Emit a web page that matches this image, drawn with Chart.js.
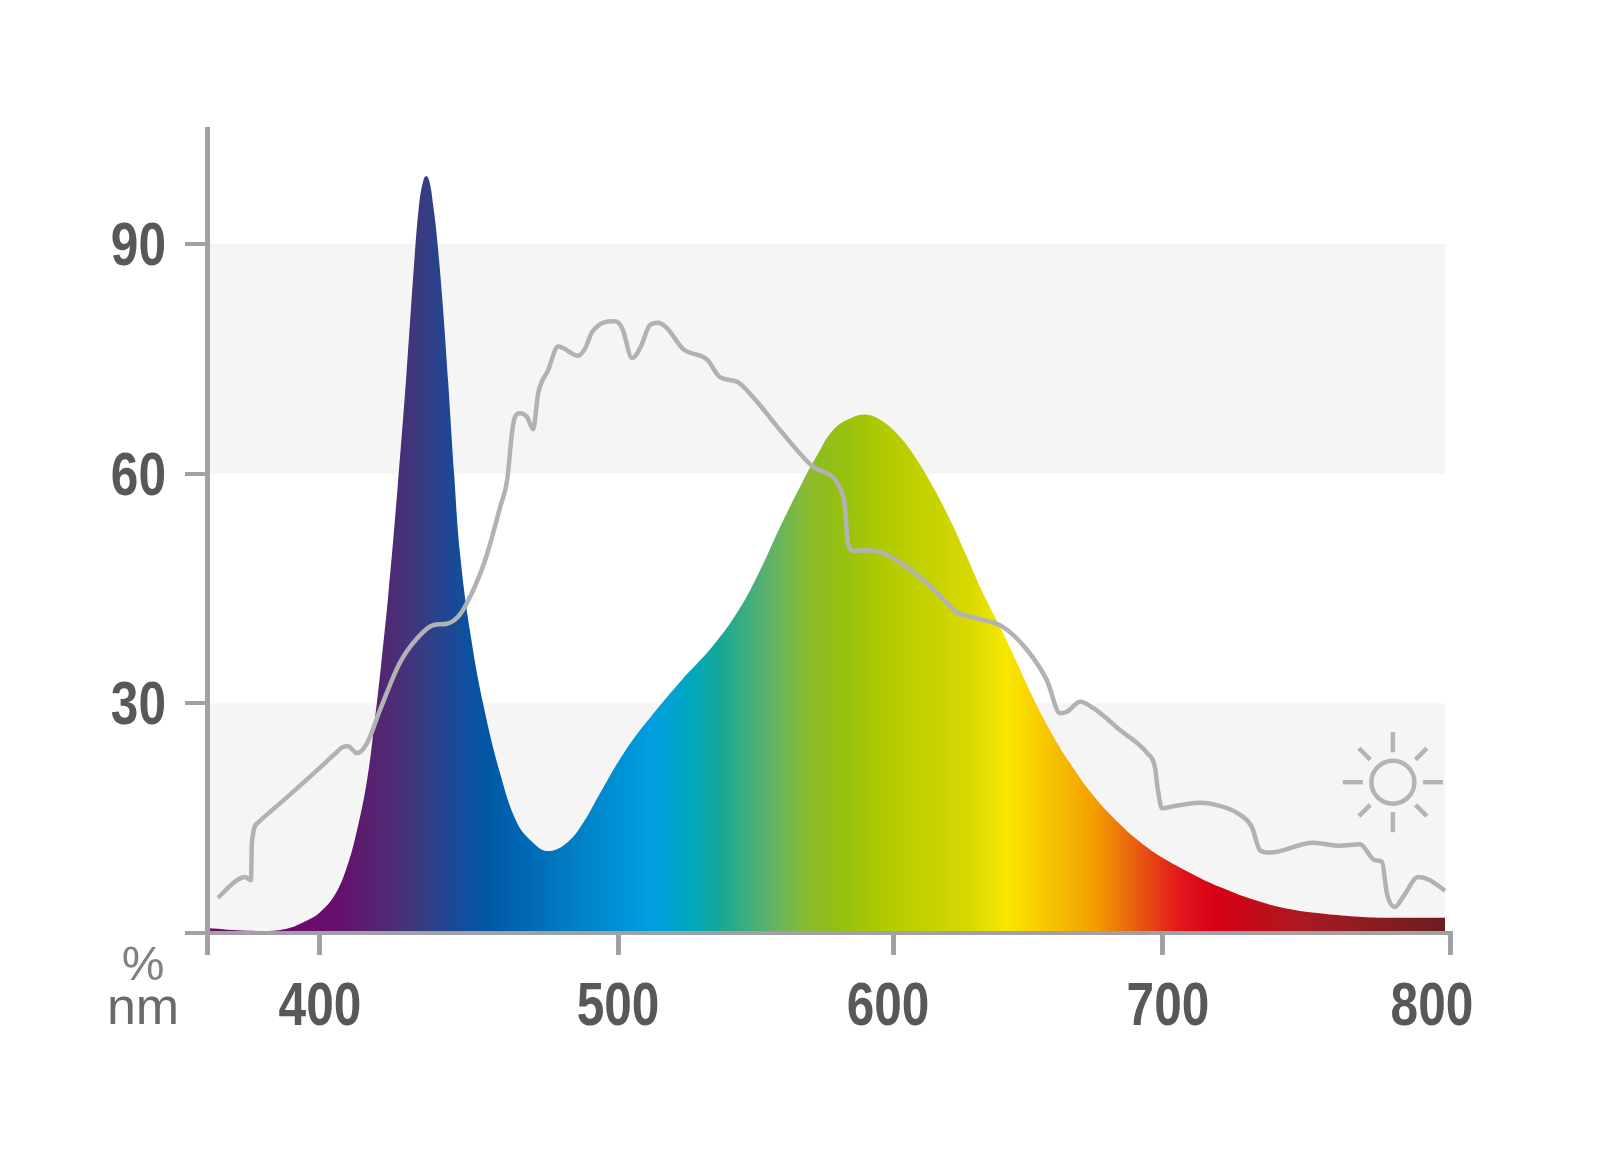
<!DOCTYPE html>
<html>
<head>
<meta charset="utf-8">
<title>Spectrum</title>
<style>
  html, body { margin: 0; padding: 0; background: #fff; }
  canvas { display: block; }
</style>
<script src="https://cdn.jsdelivr.net/npm/chart.js@4/dist/chart.umd.js"></script>
</head>
<body>
<canvas id="chart" width="1600" height="1157"></canvas>
<script>
// lamp spectrum
var lampNm = [362, 376, 388, 396, 400, 405, 409, 412.4, 415.8, 418, 420.5, 423, 426, 429, 431.5, 433.2, 434.6, 435.6, 436.7, 438, 439.2, 441, 443, 445, 447, 450.3, 454.7, 460.4, 466.1, 471.5, 476.5, 482.9, 488.3, 494, 503, 512.7, 523, 533.8, 542.5, 549.8, 558.9, 566.2, 572.4, 578.2, 584.4, 590.5, 596.4, 602.6, 608.9, 614.8, 621.1, 627.4, 633.3, 639.6, 645.9, 651.9, 658.1, 664.4, 674.1, 684.1, 691.5, 700, 712.9, 719.9, 730.3, 741.8, 753.7, 765.2, 776.7, 798.3];
var lampPct = [0.65, 0.3, 0.5, 1.7, 2.7, 5, 8.6, 13.4, 20, 26.5, 35, 44.5, 58, 73, 87, 95, 98.2, 98.9, 98.2, 95, 91, 83, 72, 60, 49.5, 39.5, 30, 20.9, 14.4, 11.8, 10.7, 11.8, 14.4, 18.3, 24, 28.6, 33, 37.2, 41.4, 46, 53, 58.3, 62.4, 65.7, 67.2, 67.7, 66.8, 64.8, 61.8, 58.3, 54, 49.1, 44.4, 40, 35.3, 30.7, 26.5, 22.8, 18, 14.2, 11.9, 9.8, 7.2, 6, 4.5, 3.3, 2.6, 2.2, 2, 2];

// daylight curve
var sunNm = [365.7, 372.1, 374.8, 376.8, 377.1, 379.1, 390, 400, 405, 407.7, 409.4, 412.4, 415.8, 420.1, 426.8, 432.6, 437.9, 442.6, 446.3, 449.3, 455.4, 460.4, 462.8, 464.4, 465.4, 467.1, 469.5, 471.5, 473.2, 476.5, 479.9, 486.6, 489, 491.3, 499, 501.5, 505.1, 508, 511.6, 514.5, 517.8, 523.6, 532.4, 537.1, 543.3, 549.1, 558.9, 570.9, 581.5, 582.5, 583.6, 586.2, 591.6, 600, 608.9, 616.3, 623.7, 631.1, 640.7, 649.6, 657, 661.9, 664.4, 669.3, 674.1, 684.1, 694.1, 697, 698.1, 699.6, 704.2, 712.9, 718.8, 725.8, 731, 733.8, 737.3, 752.3, 761.7, 768.6, 773.9, 776.3, 778, 780.8, 783.6, 788.9, 793, 798.3];
var sunPct = [4.6, 6.9, 7.3, 6.9, 11.8, 14.4, 18.1, 21.6, 23.4, 24.3, 24.4, 23.5, 24.8, 29.1, 35.3, 38.5, 40.2, 40.4, 41.3, 43.1, 48.7, 55.6, 59.2, 65.3, 67.4, 67.9, 67.4, 65.8, 70.5, 73.5, 76.6, 75.4, 76.4, 78.5, 79.9, 79, 75.1, 76.4, 79.4, 79.7, 79, 76.3, 74.9, 72.6, 72, 70, 65.7, 60.9, 57.5, 55.6, 50.9, 49.9, 50, 49, 46.8, 44.4, 41.9, 41.1, 40, 37, 33, 28.7, 28.9, 30.2, 29.4, 26.5, 23.5, 21.7, 18.7, 16.3, 16.6, 17, 16.7, 15.7, 13.8, 10.8, 10.5, 11.8, 11.4, 11.6, 9.5, 9.3, 5.2, 3.4, 4.7, 7.3, 6.9, 5.5];

var xTicks = [362, 400, 500, 600, 700, 800];
var yTicks = [0, 30, 60, 90];
var bands = [[0, 30], [60, 90]];

// spectrum colours by wavelength
var gradNm = [390, 406.7, 417, 426.8, 433.5, 448.7, 457, 477.5, 500, 512.7, 526, 537, 555.3, 569.8, 580.7, 599, 627.4, 642, 653, 674, 689, 706, 718, 750, 797];
var gradColors = ['#6e0a6e', '#640f6e', '#57226f', '#4a2e78', '#3a3a80', '#0f4f9f', '#0058a5', '#0074bd', '#0090d5', '#009fe0', '#00a8bf', '#16a898', '#5eb26a', '#8cbc2c', '#94c00f', '#b4cc00', '#d6d800', '#f8e800', '#f8cf00', '#f3a000', '#e8620f', '#e2161c', '#d80016', '#a81a20', '#6a1f1f'];

var AXIS = '#a0a0a5';
var TEXT = '#58585a';

// the printed axis is not quite even, ticks are hand placed
var warpFrac = [0, 0.0909, 0.3307, 0.5519, 0.7691, 1];
var labelNudge = { 600: -5, 700: 5, 800: -18 };

class WarpedScale extends Chart.LinearScale {
  getPixelForValue(v) {
    if (v === null || v === undefined) return NaN;
    var i = 0;
    while (i < xTicks.length - 2 && v > xTicks[i + 1]) i++;
    var t = (v - xTicks[i]) / (xTicks[i + 1] - xTicks[i]);
    return this.getPixelForDecimal(warpFrac[i] + t * (warpFrac[i + 1] - warpFrac[i]));
  }
}
WarpedScale.id = 'warped';
WarpedScale.defaults = Chart.LinearScale.defaults;
Chart.register(WarpedScale);

function pts(xs, ys) {
  return xs.map(function (x, i) { return { x: x, y: ys[i] }; });
}

function spectrumFill(ctx) {
  var chart = ctx.chart, area = chart.chartArea;
  if (!area) return '#888';
  var g = chart.ctx.createLinearGradient(area.left, 0, area.right, 0);
  gradNm.forEach(function (nm, i) {
    g.addColorStop((chart.scales.x.getPixelForValue(nm) - area.left) / (area.right - area.left), gradColors[i]);
  });
  return g;
}

// no condensed face is installed, so squeeze the bold one
function narrowText(c, text, x, y, align) {
  c.save();
  c.translate(x, y);
  c.scale(0.8, 1);
  c.textAlign = align;
  c.textBaseline = 'middle';
  c.font = 'bold 62px "Liberation Sans"';
  c.fillStyle = TEXT;
  c.fillText(text, 0, 0);
  c.restore();
}

var decor = {
  id: 'decor',
  beforeDraw: function (chart) {
    var c = chart.ctx, x = chart.scales.x, y = chart.scales.y;
    var left = chart.chartArea.left, right = x.getPixelForValue(798.3);
    c.save();
    c.fillStyle = '#f5f5f6';
    bands.forEach(function (b) {
      c.fillRect(left, y.getPixelForValue(b[1]), right - left, y.getPixelForValue(b[0]) - y.getPixelForValue(b[1]));
    });
    c.restore();
  },
  afterDraw: function (chart) {
    var c = chart.ctx, x = chart.scales.x, y = chart.scales.y;
    // tick labels
    yTicks.forEach(function (v) {
      if (v !== 0) narrowText(c, String(v), 166, y.getPixelForValue(v) + 4, 'right');
    });
    xTicks.forEach(function (v) {
      if (v !== 362) narrowText(c, String(v), x.getPixelForValue(v) + (labelNudge[v] || 0), 1008, 'center');
    });
    // sun symbol
    var sx = x.getPixelForValue(780.1), sy = y.getPixelForValue(19.7);
    c.save();
    c.strokeStyle = '#b4b4b6';
    c.lineWidth = 4.5;
    c.beginPath();
    c.arc(sx, sy, 21.5, 0, Math.PI * 2);
    c.stroke();
    for (var k = 0; k < 8; k++) {
      var a = k * Math.PI / 4, r0 = k % 2 ? 32 : 30, r1 = k % 2 ? 48 : 50;
      c.beginPath();
      c.moveTo(sx + Math.cos(a) * r0, sy + Math.sin(a) * r0);
      c.lineTo(sx + Math.cos(a) * r1, sy + Math.sin(a) * r1);
      c.stroke();
    }
    // units
    c.textAlign = 'center';
    c.textBaseline = 'middle';
    c.font = '48px "Liberation Sans"';
    c.fillStyle = '#808082';
    c.fillText('%', 143, 967);
    c.font = '52px "Liberation Sans"';
    c.fillStyle = '#6a6a6c';
    c.fillText('nm', 143, 1010);
    c.restore();
  }
};

new Chart(document.getElementById('chart'), {
  type: 'line',
  data: {
    datasets: [
      {
        label: 'Daylight',
        data: pts(sunNm, sunPct),
        borderColor: '#b2b2b4',
        borderWidth: 4.5,
        borderJoinStyle: 'round',
        cubicInterpolationMode: 'monotone',
        pointRadius: 0,
        fill: false,
        order: 1
      },
      {
        label: 'Lamp',
        data: pts(lampNm, lampPct),
        borderWidth: 0,
        backgroundColor: spectrumFill,
        tension: 0.4,
        pointRadius: 0,
        fill: 'origin',
        order: 2
      }
    ]
  },
  options: {
    responsive: false,
    devicePixelRatio: 1,
    animation: false,
    events: [],
    layout: { padding: { top: 129.5, right: 150, left: 0, bottom: 0 } },
    plugins: { legend: { display: false }, tooltip: { enabled: false } },
    scales: {
      x: {
        type: 'warped',
        min: 362,
        max: 800,
        afterBuildTicks: function (s) { s.ticks = xTicks.map(function (v) { return { value: v }; }); },
        afterFit: function (s) { s.height = 224; },
        border: { color: AXIS, width: 4, z: 1 },
        grid: { drawOnChartArea: false, color: AXIS, lineWidth: 5, tickLength: 22 },
        ticks: { display: false, autoSkip: false, maxRotation: 0 }
      },
      y: {
        min: 0,
        max: 104.96,
        afterBuildTicks: function (s) { s.ticks = yTicks.map(function (v) { return { value: v }; }); },
        afterFit: function (s) { s.width = 207; },
        border: { color: AXIS, width: 5, z: 1 },
        grid: { drawOnChartArea: false, color: AXIS, lineWidth: 4, tickLength: 22 },
        ticks: { display: false }
      }
    }
  },
  plugins: [decor]
});
</script>
</body>
</html>
